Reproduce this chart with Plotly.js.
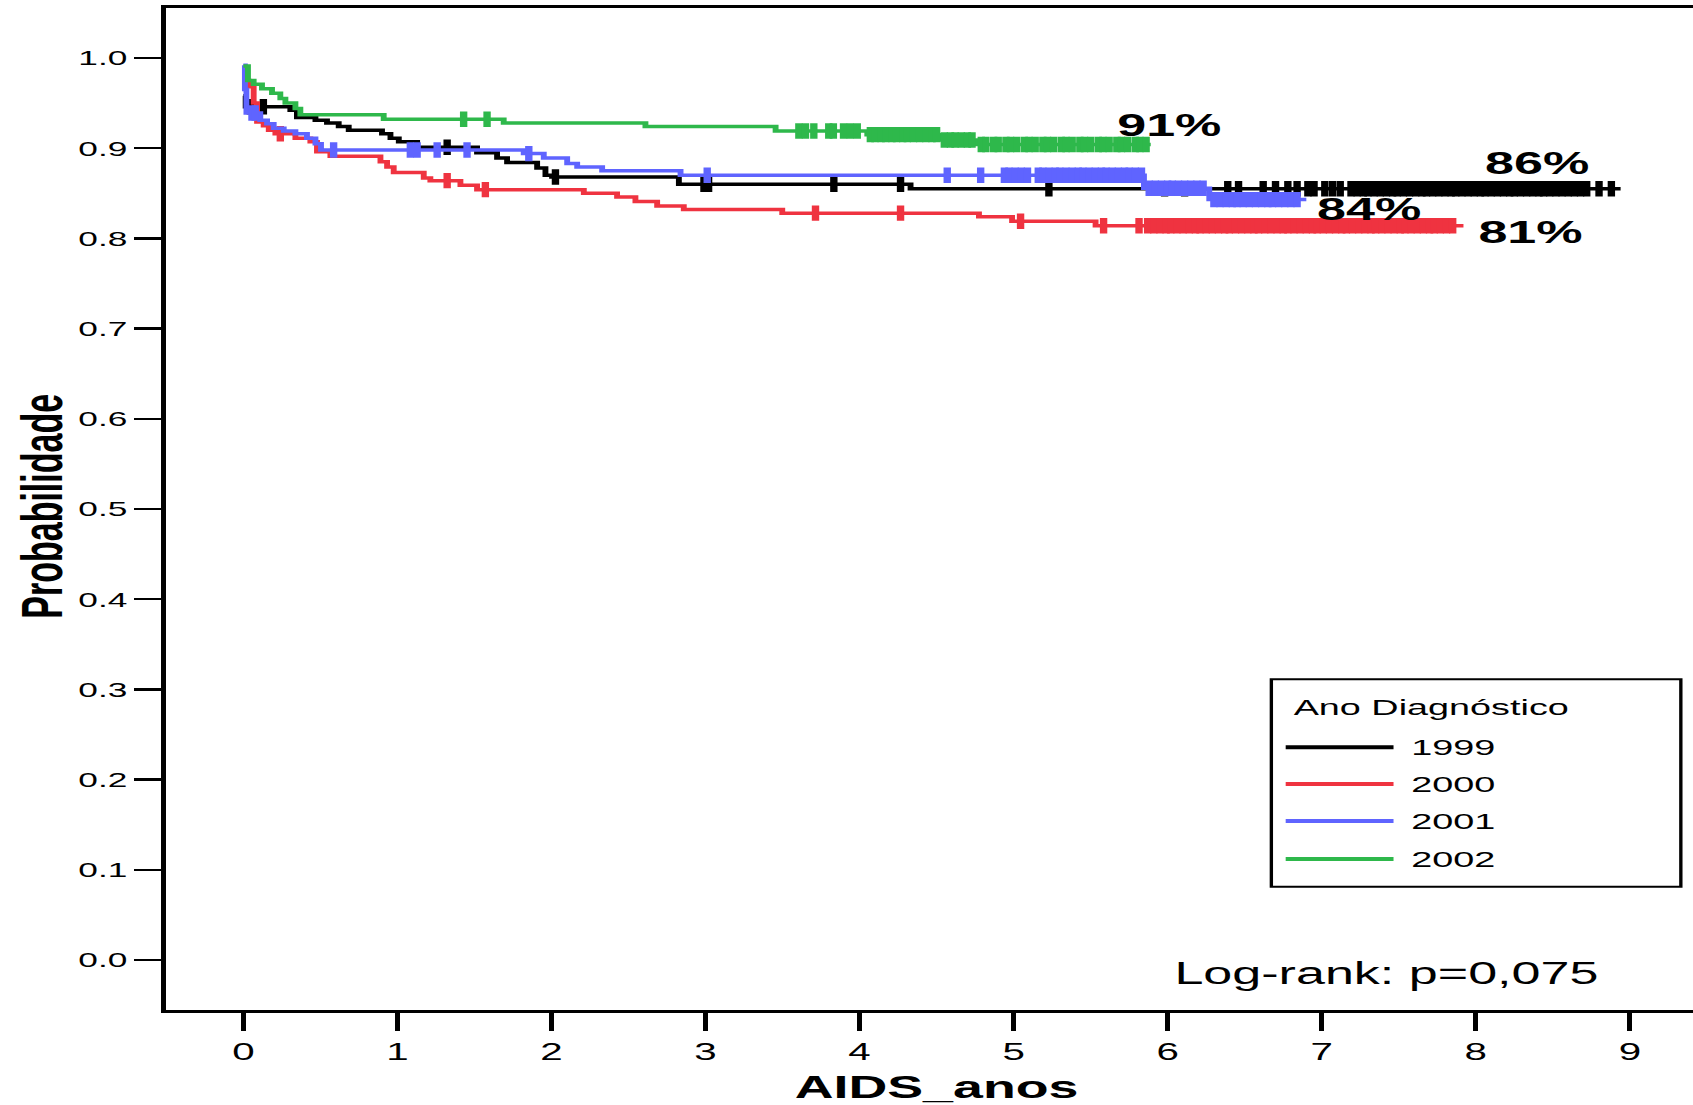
<!DOCTYPE html>
<html><head><meta charset="utf-8">
<script src="https://cdn.plot.ly/plotly-3.0.1.min.js"></script>
<style>
html,body{margin:0;padding:0;background:#fff;overflow:hidden;width:1693px;height:1105px;}
#chart{width:1016px;height:1105px;transform:scaleX(1.68);transform-origin:0 0;}
</style></head><body><div id="chart"></div>
<script>
// ---- data ----
const years = ['1999', '2000', '2001', '2002'];
const colors = ['#000000', '#EF3340', '#5F64FF', '#2EB84B'];
const finalLabels = ['86%', '81%', '84%', '91%'];

const t1999 = [0, 0.015, 0.305, 0.348, 0.468, 0.543, 0.619, 0.684, 0.90, 0.955, 1.009, 1.128, 1.517, 1.647, 1.712, 1.907, 1.961, 2.004, 2.827, 4.331];
const s1999 = [0.958, 0.946, 0.942, 0.934, 0.931, 0.928, 0.924, 0.920, 0.916, 0.911, 0.907, 0.901, 0.895, 0.889, 0.884, 0.878, 0.870, 0.868, 0.860, 0.855];
const end1999 = 8.94;
const c1999 = [0.045, 0.13, 1.323, 2.026, 2.99, 3.02, 3.833, 4.266, 5.229, 5.98, 6.11, 6.39, 6.46, 6.62, 6.70, 6.78, 6.84, 6.91, 6.95, 7.02, 7.07, 7.12,
  7.19, 7.23, 7.27, 7.30, 7.34, 7.38, 7.42, 7.46, 7.49, 7.53, 7.57, 7.61, 7.65, 7.68, 7.72, 7.76, 7.80, 7.84, 7.87, 7.91, 7.95, 7.99,
  8.03, 8.06, 8.10, 8.14, 8.18, 8.22, 8.25, 8.29, 8.33, 8.37, 8.41, 8.44, 8.48, 8.52, 8.56, 8.60, 8.64, 8.68, 8.72, 8.80, 8.88];

const t2000 = [0, 0.035, 0.067, 0.089, 0.132, 0.165, 0.208, 0.338, 0.435, 0.478, 0.565, 0.89, 0.933, 0.976, 1.171, 1.214, 1.409, 1.517, 2.21, 2.426, 2.545, 2.686, 2.859, 3.498, 4.775, 4.99, 5.532];
const s2000 = [0.975, 0.968, 0.950, 0.929, 0.925, 0.920, 0.916, 0.911, 0.907, 0.896, 0.891, 0.885, 0.879, 0.873, 0.867, 0.864, 0.859, 0.854, 0.850, 0.846, 0.841, 0.836, 0.832, 0.828, 0.824, 0.819, 0.814];
const end2000 = 7.92;
const c2000 = [0.24, 1.323, 1.571, 3.714, 4.266, 5.045, 5.584, 5.814,
  5.87, 5.91, 5.95, 5.99, 6.02, 6.06, 6.10, 6.14, 6.18, 6.21, 6.25, 6.29, 6.33, 6.37, 6.40, 6.44, 6.48, 6.52, 6.56, 6.59, 6.63, 6.67,
  6.71, 6.75, 6.78, 6.82, 6.86, 6.90, 6.94, 6.97, 7.01, 7.05, 7.09, 7.13, 7.16, 7.20, 7.24, 7.28, 7.32, 7.35, 7.39, 7.43, 7.47, 7.51,
  7.54, 7.58, 7.62, 7.66, 7.70, 7.73, 7.77, 7.81, 7.85];

const t2001 = [0, 0.01, 0.02, 0.11, 0.154, 0.197, 0.262, 0.338, 0.413, 0.468, 0.504, 1.82, 1.95, 2.102, 2.167, 2.329, 2.838, 5.846, 6.27];
const s2001 = [0.992, 0.965, 0.939, 0.931, 0.927, 0.922, 0.919, 0.916, 0.911, 0.905, 0.898, 0.894, 0.889, 0.883, 0.879, 0.875, 0.870, 0.8555, 0.843];
const end2001 = 6.9;
const c2001 = [0.056, 0.077, 0.586, 1.084, 1.128, 1.258, 1.452, 1.853, 3.011, 4.569, 4.786,
  4.94, 4.97, 5.01, 5.05, 5.09, 5.16, 5.19, 5.23, 5.27, 5.30, 5.34, 5.38, 5.42, 5.45, 5.49, 5.53, 5.57, 5.60, 5.64, 5.68, 5.72, 5.75, 5.79, 5.83,
  5.88, 5.92, 5.96, 6.00, 6.03, 6.07, 6.11, 6.15, 6.19, 6.23,
  6.30, 6.34, 6.38, 6.42, 6.45, 6.49, 6.53, 6.57, 6.61, 6.65, 6.68, 6.72, 6.76, 6.80, 6.84];

const t2002 = [0, 0.03, 0.067, 0.121, 0.186, 0.24, 0.273, 0.338, 0.37, 0.911, 1.69, 2.61, 3.455, 4.05, 4.526, 4.764];
const s2002 = [0.991, 0.975, 0.971, 0.966, 0.961, 0.955, 0.950, 0.944, 0.937, 0.932, 0.928, 0.924, 0.919, 0.915, 0.909, 0.904];
const end2002 = 5.89;
const c2002 = [1.43, 1.582, 3.606, 3.649, 3.703, 3.80, 3.83, 3.896, 3.94, 3.985,
  4.07, 4.10, 4.14, 4.17, 4.21, 4.24, 4.28, 4.31, 4.35, 4.39, 4.43, 4.47, 4.50,
  4.55, 4.59, 4.62, 4.66, 4.70, 4.73,
  4.79, 4.82, 4.87, 4.90, 4.95, 4.98, 5.02, 5.07, 5.10, 5.14, 5.19, 5.22, 5.26, 5.31, 5.34, 5.38, 5.43, 5.46, 5.50, 5.55, 5.58, 5.62,
  5.67, 5.70, 5.74, 5.79, 5.82, 5.86];

const seriesT = [t1999, t2000, t2001, t2002];
const seriesS = [s1999, s2000, s2001, s2002];
const seriesEnd = [end1999, end2000, end2001, end2002];
const seriesC = [c1999, c2000, c2001, c2002];

const xTicks = [0, 1, 2, 3, 4, 5, 6, 7, 8, 9];
const yTicks = [0.0, 0.1, 0.2, 0.3, 0.4, 0.5, 0.6, 0.7, 0.8, 0.9, 1.0];
const logRankText = 'Log-rank: p=0,075';
const legendTitle = 'Ano Diagnóstico';
const xTitle = 'AIDS_anos';
const yTitle = 'Probabilidade';

// ---- build ----
const FONT = 'Liberation Sans, Arial, Helvetica, sans-serif';
function stepValue(ts, ss, t) {
  let v = ss[0];
  for (let i = 0; i < ts.length; i++) { if (ts[i] <= t) v = ss[i]; }
  return v;
}

const traces = [];
years.forEach((yr, k) => {
  const ts = seriesT[k], ss = seriesS[k];
  traces.push({
    x: ts.concat([seriesEnd[k]]), y: ss.concat([ss[ss.length - 1]]),
    type: 'scatter', mode: 'lines', name: yr, showlegend: false,
    line: {color: colors[k], width: 3.5, shape: 'hv'}, hoverinfo: 'skip'
  });
  traces.push({
    x: seriesC[k], y: seriesC[k].map(t => stepValue(ts, ss, t)),
    type: 'scatter', mode: 'markers', name: yr + ' censurado', showlegend: false,
    marker: {symbol: 'line-ns', size: 11, color: colors[k], line: {color: colors[k], width: 4.4}},
    hoverinfo: 'skip'
  });
});

// legend geometry (data coords)
const legX0 = 6.673, legX1 = 9.331, legY0 = 0.0813, legY1 = 0.3112;
const legLineX0 = 6.766, legLineX1 = 7.466, legTextX = 7.555;
const legRowsY = [0.2358, 0.1951, 0.1541, 0.112];

const shapes = [{type: 'rect', xref: 'x', yref: 'y', x0: legX0, x1: legX1, y0: legY0, y1: legY1,
  line: {color: '#000', width: 2}, fillcolor: 'rgba(0,0,0,0)'}];
const annotations = [];
years.forEach((yr, k) => {
  shapes.push({type: 'line', xref: 'x', yref: 'y', x0: legLineX0, x1: legLineX1, y0: legRowsY[k], y1: legRowsY[k],
    line: {color: colors[k], width: 4}});
  annotations.push({xref: 'x', yref: 'y', x: legTextX, y: legRowsY[k], text: yr, showarrow: false,
    xanchor: 'left', yanchor: 'middle', font: {family: FONT, size: 22.5, color: '#000'}});
});
annotations.push({xref: 'x', yref: 'y', x: 6.80, y: 0.2794, text: legendTitle, showarrow: false,
  xanchor: 'left', yanchor: 'middle', font: {family: FONT, size: 22.5, color: '#000'}});

// final percentage labels
const labelPos = [[8.40, 0.8825], [8.355, 0.8065], [7.31, 0.8315], [6.01, 0.925]];
years.forEach((yr, k) => {
  annotations.push({xref: 'x', yref: 'y', x: labelPos[k][0], y: labelPos[k][1], text: '<b>' + finalLabels[k] + '</b>',
    showarrow: false, xanchor: 'center', yanchor: 'middle', font: {family: FONT, size: 31, color: '#000'}});
});
annotations.push({xref: 'x', yref: 'y', x: 6.02, y: -0.0151, text: logRankText, showarrow: false,
  xanchor: 'left', yanchor: 'middle', font: {family: FONT, size: 31, color: '#000'}});

// y-axis title as rotated annotation (precise placement)
annotations.push({xref: 'paper', yref: 'paper', x: -0.081, y: 0.503, text: '<b>' + yTitle + '</b>', textangle: -90,
  showarrow: false, xanchor: 'center', yanchor: 'middle', font: {family: FONT, size: 34, color: '#000'}});

const layout = {
  width: 1016, height: 1105, autosize: false,
  margin: {l: 99, r: 0, t: 8, b: 95},
  paper_bgcolor: '#fff', plot_bgcolor: '#fff',
  showlegend: false,
  font: {family: FONT, color: '#000'},
  xaxis: {
    range: [-0.5, 9.5], tickmode: 'array', tickvals: xTicks, ticktext: xTicks.map(String),
    ticks: 'outside', ticklen: 18, tickwidth: 3, tickcolor: '#000',
    showline: true, linewidth: 3, linecolor: '#000', mirror: true,
    showgrid: false, zeroline: false,
    tickfont: {family: FONT, size: 24, color: '#000'},
    title: {text: '<b>' + xTitle + '</b>', font: {family: FONT, size: 32, color: '#000'}, standoff: 14}
  },
  yaxis: {
    range: [-0.0554, 1.0554], tickmode: 'array', tickvals: yTicks, ticktext: yTicks.map(v => v.toFixed(1)),
    ticks: 'outside', ticklen: 16, tickwidth: 2.5, tickcolor: '#000',
    showline: true, linewidth: 3, linecolor: '#000', mirror: true,
    showgrid: false, zeroline: false,
    tickfont: {family: FONT, size: 21, color: '#000'}
  },
  shapes: shapes,
  annotations: annotations
};

Plotly.newPlot('chart', traces, layout, {displayModeBar: false, staticPlot: true});
</script></body></html>
